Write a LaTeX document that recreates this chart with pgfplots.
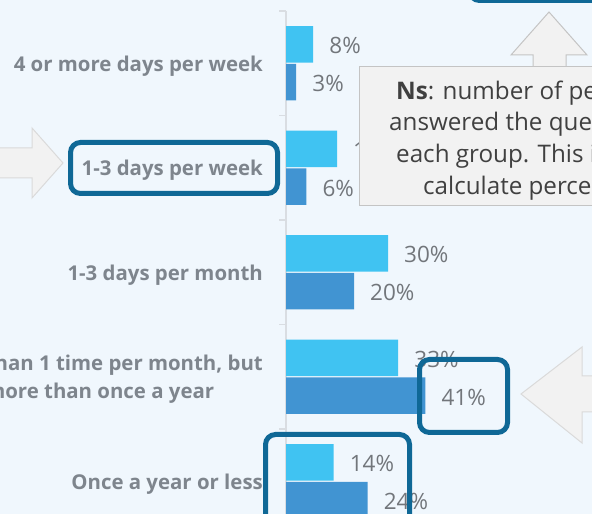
\documentclass[border=0pt]{standalone}
\usepackage{fontspec}
\setmainfont{Open Sans}
\usepackage{pgfplots}
\pgfplotsset{compat=1.18}
\definecolor{bg}{HTML}{F0F7FD}
\definecolor{lightbar}{HTML}{40C3F2}
\definecolor{darkbar}{HTML}{4194D2}
\definecolor{axisgray}{HTML}{D9DDE2}
\definecolor{catgray}{HTML}{7E858D}
\definecolor{valgray}{HTML}{72767B}
\definecolor{boxblue}{HTML}{0F6896}
\definecolor{callfill}{HTML}{F2F2F2}
\definecolor{callline}{HTML}{C4C4C4}
\definecolor{arrline}{HTML}{DADADA}
\definecolor{calltext}{HTML}{404040}
\begin{document}
\begin{tikzpicture}[x=1bp,y=1bp]
\useasboundingbox (0,0) rectangle (592,514);
\clip (0,0) rectangle (592,514);
\fill[bg] (0,0) rectangle (592,514);
\begin{axis}[
  at={(286bp,-19.5bp)}, anchor=south west,
  scale only axis, width=306bp, height=522.5bp,
  xmin=0, xmax=90, ymin=-0.5, ymax=4.5,
  axis y line*=left, axis x line=none,
  axis line style={draw=axisgray, line width=1.6bp},
  ytick={0,1,2,3,4},
  yticklabels={Once a year or less, {Less than 1 time per month, but\\more than once a year}, 1-3 days per month, 1-3 days per week, 4 or more days per week},
  major tick length=0pt,
  minor ytick={-0.5,0.5,1.5,2.5,3.5,4.5},
  minor tick length=7bp, tick align=outside,
  minor tick style={draw=axisgray, line width=1.6bp},
  yticklabel style={align=center, font=\bfseries\fontsize{20.4bp}{28bp}\selectfont, text=catgray, anchor=east, inner sep=0pt, xshift=-23bp, yshift=-2.5bp},
  xbar, bar width=0.35,
  nodes near coords={\pgfmathprintnumber[assume math mode=true]{\pgfplotspointmeta}\%},
  point meta=x,
  every node near coord/.append style={anchor=west, inner sep=0pt, xshift=16bp, yshift=-1.5bp, font=\fontsize{22.5bp}{26bp}\selectfont, text=valgray},
  clip=false,
]
\addplot[fill=lightbar, draw=none, bar shift=0.18] coordinates {(8,4) (15,3) (30,2) (33,1) (14,0)};
\addplot[fill=darkbar, draw=none, bar shift=-0.18] coordinates {(3,4) (6,3) (20,2) (41,1) (24,0)};
\end{axis}
% up arrow and callout
\draw[fill=callfill, draw=callline, line width=1bp] (549,502) -- (511,459) -- (533,459) -- (533,447) -- (566,447) -- (566,459) -- (587,459) -- cycle;
\draw[fill=callfill, draw=callline, line width=1bp] (359,447) rectangle (640,308);
\begin{scope}[every node/.style={anchor=base west, inner sep=0pt, text=calltext, font=\fontsize{24.2bp}{32bp}\selectfont}]
\node at (396,414.5) {\textbf{Ns}: number of people who};
\node at (389,383) {answered the question in};
\node at (396,351) {each group. This is used to};
\node at (423,319) {calculate percentages.};
\end{scope}
% left arrow
\draw[fill=callfill, draw=arrline, line width=1bp] (-10,366) -- (32,366) -- (32,386) -- (63,351) -- (32,316) -- (32,336) -- (-10,336) -- cycle;
% right arrow
\draw[fill=callfill, draw=arrline, line width=1bp] (521,120) -- (582,167) -- (582,138) -- (620,138) -- (620,102) -- (582,102) -- (582,71) -- cycle;
% highlight boxes
\draw[boxblue, line width=5bp, rounded corners=10bp] (70.5,320.5) rectangle (277.5,371.5);
\draw[boxblue, line width=5bp, rounded corners=10bp] (419.5,81.5) rectangle (507.5,154.5);
\draw[boxblue, line width=5bp, rounded corners=10bp] (265.5,-30) rectangle (409.5,79.5);
\draw[boxblue, line width=5bp, rounded corners=10bp] (469.5,513.5) rectangle (640,570);
\end{tikzpicture}
\end{document}
